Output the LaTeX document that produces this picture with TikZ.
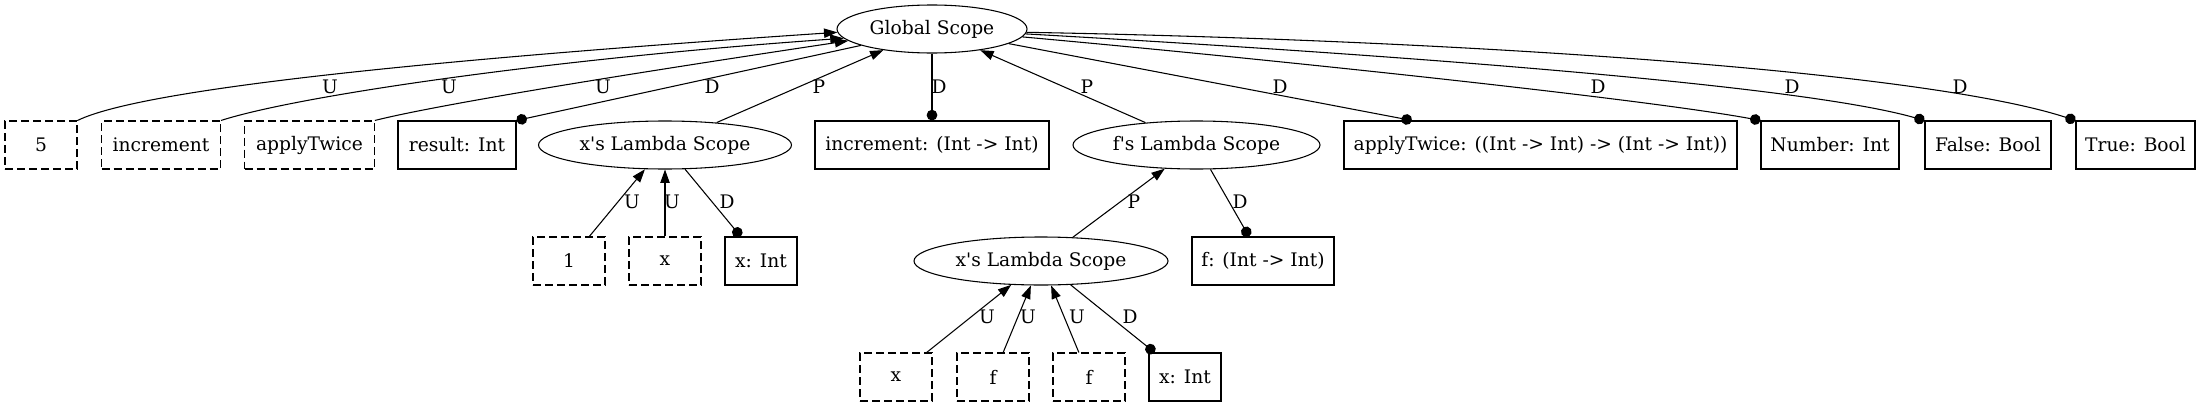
\documentclass[tikz,border=0pt]{standalone}
\usepackage{fontspec}
\setmainfont{DejaVu Serif}
\usetikzlibrary{arrows.meta,shapes.geometric}
\newcommand\gvfont{\fontsize{14}{16.8}\selectfont}
\newcommand\apos{\textquotesingle}
\tikzset{
  scopenode/.style={ellipse, draw, line width=0.8pt, inner sep=0pt,
                    minimum height=36pt, font=\gvfont},
  declbox/.style ={rectangle, draw, line width=0.8pt, inner sep=0pt,
                   minimum height=36pt, minimum width=54pt, font=\gvfont},
  usebox/.style  ={declbox, dash pattern=on 6pt off 3pt},
  uedge/.style   ={line width=0.8pt, -{Triangle[length=10pt, width=7pt]}},
  pedge/.style   ={uedge},
  dedge/.style   ={line width=0.8pt, -{Circle[length=8pt]}},
  elabel/.style  ={inner sep=0pt, font=\gvfont},
}
\begin{document}
\begin{tikzpicture}[x=0.75pt, y=-0.75pt]
  \useasboundingbox (0,0) rectangle (2201,407);
  \node[scopenode, minimum width=142.5pt] (gs) at (932,29) {Global Scope};

  \node[usebox] (n5) at (41,145) {5};
  \node[usebox, minimum width=89.25pt] (incr) at (161,145) {increment};
  \node[usebox, minimum width=97.25pt] (applyT) at (309.5,145) {applyTwice};
  \node[declbox, minimum width=88.5pt] (result) at (457,145) {result: Int};
  \node[scopenode, minimum width=189.75pt] (xls1) at (665,145) {x\apos s Lambda Scope};
  \node[declbox, minimum width=175.5pt] (incrT) at (932,145) {increment: (Int -> Int)};
  \node[scopenode, minimum width=185.25pt] (fls) at (1196.5,145) {f\apos s Lambda Scope};
  \node[declbox, minimum width=294.75pt] (applyTT) at (1540.5,145) {applyTwice: ((Int -> Int) -> (Int -> Int))};
  \node[declbox, minimum width=103.5pt] (numT) at (1830,145) {Number: Int};
  \node[declbox, minimum width=94.5pt] (falseT) at (1988,145) {False: Bool};
  \node[declbox, minimum width=89.25pt] (trueT) at (2135.5,145) {True: Bool};

  \node[usebox] (one) at (569,261) {1};
  \node[usebox] (x1) at (665,261) {x};
  \node[declbox] (xInt1) at (761,261) {x: Int};
  \node[scopenode, minimum width=190.5pt] (xls2) at (1041,261) {x\apos s Lambda Scope};
  \node[declbox, minimum width=106.5pt] (fT) at (1263,261) {f: (Int -> Int)};

  \node[usebox] (x2) at (896,377) {x};
  \node[usebox] (f1) at (993,377) {f};
  \node[usebox] (f2) at (1089,377) {f};
  \node[declbox] (xInt2) at (1185,377) {x: Int};

  \draw[uedge] (n5.north east) .. controls (150,85) and (500,55) .. (gs.182);
  \draw[uedge] (incr.north east) .. controls (300,95) and (560,58) .. (gs.186);
  \draw[uedge] (applyT.north east) .. controls (440,104) and (640,72) .. (gs.188);
  \draw[dedge] (gs.193) -- (result.north east);
  \draw[pedge] (xls1) -- (gs);
  \draw[dedge] (gs) -- (incrT);
  \draw[pedge] (fls) -- (gs);
  \draw[dedge] (gs) -- (applyTT);
  \draw[dedge] (gs.-5) .. controls (1300,62) and (1650,100) .. (numT.north west);
  \draw[dedge] (gs.-3) .. controls (1400,55) and (1800,85) .. (falseT.north west);
  \draw[dedge] (gs.-2) .. controls (1450,40) and (1920,70) .. (trueT.north west);

  \draw[uedge] (one) -- (xls1);
  \draw[uedge] (x1) -- (xls1);
  \draw[dedge] (xls1) -- (xInt1);
  \draw[pedge] (xls2) -- (fls);
  \draw[dedge] (fls) -- (fT);

  \draw[uedge] (x2) -- (xls2);
  \draw[uedge] (f1) -- (xls2);
  \draw[uedge] (f2) -- (xls2);
  \draw[dedge] (xls2) -- (xInt2);

  \foreach \lt/\lx/\ly [count=\i] in {U/330/87, U/449/87, U/603/87, D/712/87,
      P/819/87, D/939/87, P/1087/87, D/1280/87, D/1598/87, D/1792/87,
      D/1960/87, U/632/202, U/672/202, D/727/202, P/1134/202, D/1240/202,
      U/987/317, U/1028/317, U/1077/317, D/1130/317}
    \node[elabel] (lab\i) at (\lx,\ly) {\lt};
\end{tikzpicture}
\end{document}
